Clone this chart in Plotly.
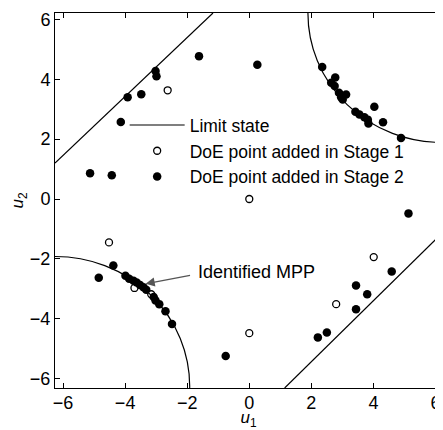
import plotly.graph_objects as go

# ---- data ----
stage1_u1 = [-2.63, 0.00, -4.52, -3.70, -3.16, 0.00, 4.01, 2.80]
stage1_u2 = [3.63, 0.00, -1.45, -2.97, -3.18, -4.48, -1.94, -3.51]

stage2_u1 = [-3.02, -2.99, -3.92, -3.48, -4.14, -1.62, 0.26, -5.13, -4.43,
             5.13,
             2.35, 2.77, 2.64, 2.75, 2.89, 2.96, 3.12, 3.01, 3.42, 3.55, 3.71, 3.82, 3.84, 4.03, 4.31, 4.89,
             -4.85, -4.38, -3.99, -3.87, -3.73, -3.63, -3.52, -3.41, -3.32, -3.08, -3.02, -2.90, -2.70, -2.49, -0.76,
             4.59, 3.44, 3.80, 3.44, 2.21, 2.50]
stage2_u2 = [4.27, 4.10, 3.40, 3.50, 2.57, 4.77, 4.48, 0.86, 0.79,
             -0.48,
             4.41, 4.06, 3.88, 3.77, 3.55, 3.40, 3.49, 3.32, 2.91, 2.82, 2.73, 2.65, 2.52, 3.08, 2.56, 2.04,
             -2.63, -2.22, -2.56, -2.66, -2.73, -2.79, -2.87, -2.95, -3.03, -3.27, -3.39, -3.51, -3.75, -4.17, -5.24,
             -2.42, -2.89, -3.18, -3.68, -4.62, -4.46]

# straight parts of the limit state (end points read at the frame)
line_u1 = [-6.26, -1.17, None, 1.14, 6.21]
line_u2 = [1.20, 6.21, None, -6.31, -1.14]

# circular parts of the limit state: (centre u1, centre u2, radius)
arcs = [(-6.25, -6.25, 4.33), (6.20, 6.20, 4.31)]

# MPP annotation (arrow tail -> head)
mpp_head = (-3.34, -2.83)
mpp_tail = (-1.86, -2.54)
mpp_text_pos = (-1.72, -2.45)

tick_vals = [-6, -4, -2, 0, 2, 4, 6]
x_range = [-6.26, 6.21]
y_range = [-6.31, 6.21]

FONT = "Arial, Liberation Sans, Helvetica, sans-serif"

fig = go.Figure()
fig.add_trace(go.Scatter(x=line_u1, y=line_u2, mode="lines", name="Limit state",
                         line=dict(color="black", width=1.2), connectgaps=False))
fig.add_trace(go.Scatter(x=stage1_u1, y=stage1_u2, mode="markers",
                         name="DoE point added in Stage 1",
                         marker=dict(symbol="circle-open", size=7, color="black",
                                     line=dict(width=1.3, color="black"))))
fig.add_trace(go.Scatter(x=stage2_u1, y=stage2_u2, mode="markers",
                         name="DoE point added in Stage 2",
                         marker=dict(symbol="circle", size=8.5, color="black")))

for cx, cy, r in arcs:
    fig.add_shape(type="circle", xref="x", yref="y",
                  x0=cx - r, x1=cx + r, y0=cy - r, y1=cy + r,
                  line=dict(color="black", width=1.2), layer="above")

fig.add_annotation(x=mpp_head[0], y=mpp_head[1], ax=mpp_tail[0], ay=mpp_tail[1],
                   axref="x", ayref="y", xref="x", yref="y", text="",
                   showarrow=True, arrowhead=2, arrowsize=1.3, arrowwidth=1.4,
                   arrowcolor="#555555")
fig.add_annotation(x=mpp_text_pos[0], y=mpp_text_pos[1], xref="x", yref="y",
                   text="Identified MPP", showarrow=False, xanchor="left",
                   font=dict(family=FONT, size=18, color="black"))

axis_common = dict(showgrid=False, zeroline=False, showline=True, linecolor="black",
                   linewidth=1, mirror="ticks", ticks="inside", ticklen=5,
                   tickcolor="black", tickvals=tick_vals,
                   tickfont=dict(family=FONT, size=18, color="black"))
fig.update_xaxes(range=x_range, ticklabelstandoff=-2,
                 title=dict(text="<i>u</i><sub>1</sub>", standoff=0,
                            font=dict(family=FONT, size=17, color="black")), **axis_common)
fig.update_yaxes(range=y_range,
                 title=dict(text="<i>u</i><sub>2</sub>", standoff=4,
                            font=dict(family=FONT, size=17, color="black")), **axis_common)

# the page adds an 8 px body margin, so the figure is drawn 8 px smaller
fig.update_layout(
    width=435, height=422,
    margin=dict(l=47, r=1, t=5, b=42),
    plot_bgcolor="white", paper_bgcolor="white",
    legend=dict(x=0.18, y=0.749, xanchor="left", yanchor="top",
                bgcolor="rgba(0,0,0,0)", itemwidth=55,
                font=dict(family=FONT, size=17.5, color="black"),
                tracegroupgap=0),
    showlegend=True,
)

fig.write_html("out.html")
